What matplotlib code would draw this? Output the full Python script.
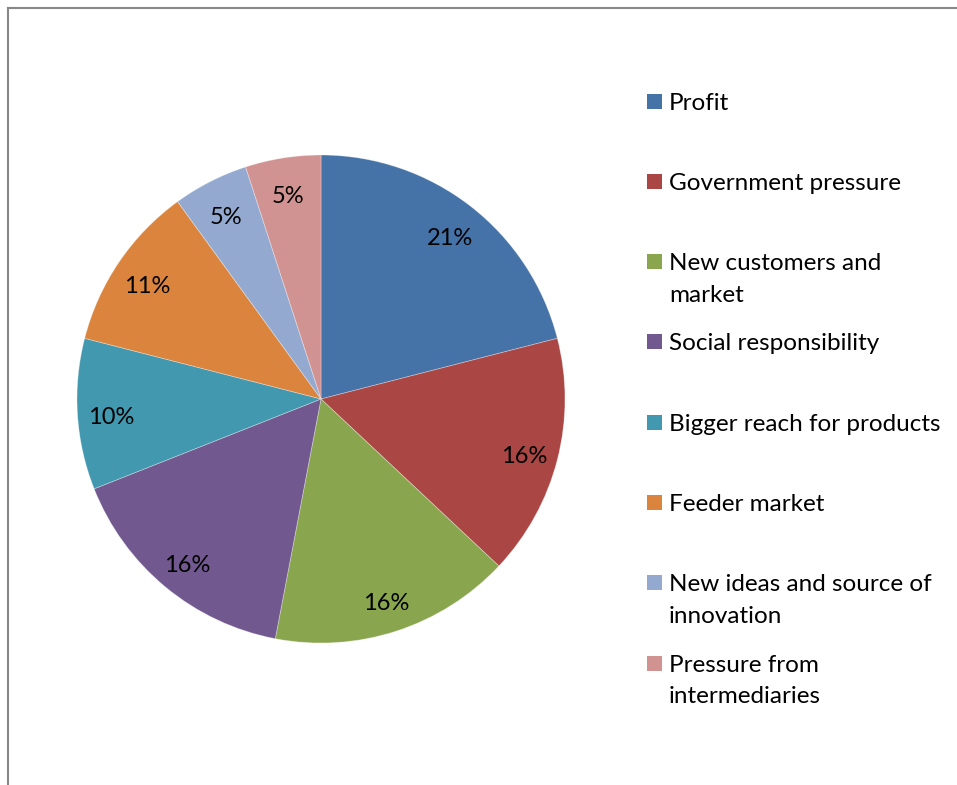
import matplotlib.pyplot as plt
from matplotlib.patches import Rectangle
import matplotlib.transforms as mtransforms

plt.rcParams['font.family'] = ['Lato', 'DejaVu Sans']

categories = ["Profit", "Government pressure", "New customers and\nmarket",
              "Social responsibility", "Bigger reach for products", "Feeder market",
              "New ideas and source of\ninnovation", "Pressure from\nintermediaries"]
shares = [21, 16, 16, 16, 10, 11, 5, 5]
colors = ["#4572A7", "#AA4643", "#89A54E", "#71588F",
          "#4198AF", "#DB843D", "#93A9CF", "#D19392"]

W, H = 957, 785
fig = plt.figure(figsize=(W / 100, H / 100), dpi=100)

# pie axes: centre (321, 399), radius 244 px
cx, cy, r = 321, 399, 244
ax = fig.add_axes([(cx - r) / W, 1 - (cy + r) / H, 2 * r / W, 2 * r / H])
wedges, texts, autotexts = ax.pie(
    shares, colors=colors, startangle=90, counterclock=False,
    autopct=lambda p: "%d%%" % round(p), pctdistance=0.86, radius=1,
    wedgeprops=dict(edgecolor=(1, 1, 1, 0.35), linewidth=0.6))
shift = mtransforms.ScaledTranslation(0, -5 / 100, fig.dpi_scale_trans)
for t in autotexts:
    t.set_fontsize(17)
    t.set_color("black")
    t.set_transform(t.get_transform() + shift)
ax.set_xlim(-1, 1)
ax.set_ylim(-1, 1)
ax.set_aspect("equal")

# legend drawn by hand, one slot every 80 px, top aligned
for i, (lab, col) in enumerate(zip(categories, colors)):
    y = 101 + 80.3 * i
    fig.patches.append(Rectangle((647 / W, 1 - (y + 7.5) / H), 15 / W, 15 / H,
                                 facecolor=col, edgecolor="none",
                                 transform=fig.transFigure))
    for k, line in enumerate(lab.split("\n")):
        fig.text(669 / W, 1 - (y + 2 + 31.5 * k) / H, line, fontsize=17.5,
                 va="center", ha="left", color="black")

# chart border (left and top only visible)
fig.add_artist(plt.Line2D([8 / W, 8 / W], [0, 1 - 8 / H], color="#888888", lw=1.5,
                          transform=fig.transFigure))
fig.add_artist(plt.Line2D([8 / W, 1], [1 - 8 / H, 1 - 8 / H], color="#888888", lw=1.5,
                          transform=fig.transFigure))

fig.savefig("out.png", dpi=100)
